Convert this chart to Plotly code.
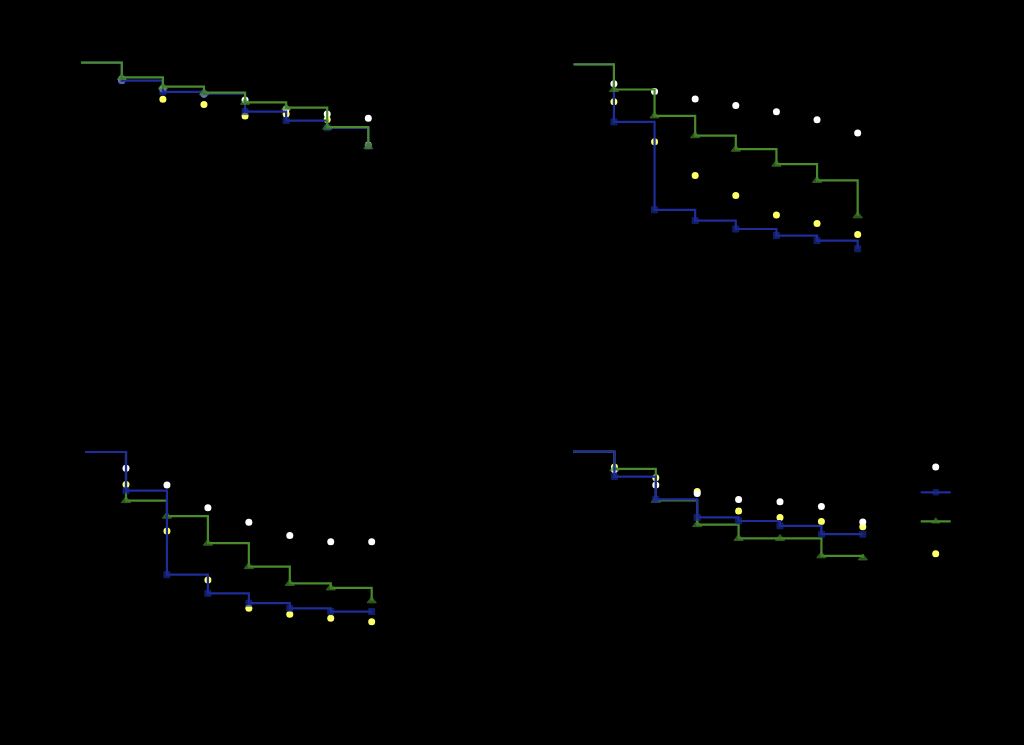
import plotly.graph_objects as go

# ---- data ----
times_line = [0, 1, 2, 3, 4, 5, 6, 7]
times_pts = [1, 2, 3, 4, 5, 6, 7]

series_names = ["Observed", "Model 1", "Model 2", "Model 3"]

# panel 1 (top-left)
p1_white = [0.945, 0.912, 0.896, 0.876, 0.845, 0.829, 0.815]
p1_blue = [1.000, 0.940, 0.903, 0.897, 0.837, 0.807, 0.783, 0.722]
p1_green = [1.000, 0.951, 0.920, 0.900, 0.868, 0.850, 0.785, 0.720]
p1_yellow = [0.941, 0.878, 0.861, 0.822, 0.829, 0.811, 0.726]

# panel 2 (top-right)
p2_white = [0.935, 0.909, 0.884, 0.863, 0.842, 0.815, 0.771]
p2_blue = [1.000, 0.808, 0.515, 0.479, 0.451, 0.429, 0.412, 0.385]
p2_green = [1.000, 0.916, 0.828, 0.762, 0.717, 0.667, 0.613, 0.495]
p2_yellow = [0.875, 0.742, 0.629, 0.563, 0.498, 0.469, 0.433]

# panel 3 (bottom-left)
p3_white = [0.946, 0.890, 0.814, 0.766, 0.722, 0.701, 0.701]
p3_blue = [1.000, 0.871, 0.591, 0.529, 0.496, 0.479, 0.468, 0.468]
p3_green = [1.000, 0.838, 0.786, 0.696, 0.618, 0.562, 0.547, 0.504]
p3_yellow = [0.892, 0.737, 0.573, 0.479, 0.459, 0.446, 0.434]

# panel 4 (bottom-right)
p4_white = [0.941, 0.889, 0.861, 0.841, 0.833, 0.817, 0.766]
p4_blue = [1.000, 0.917, 0.841, 0.781, 0.769, 0.753, 0.725, 0.725]
p4_green = [1.000, 0.943, 0.838, 0.757, 0.711, 0.711, 0.653, 0.646]
p4_yellow = [0.949, 0.913, 0.867, 0.802, 0.781, 0.767, 0.750]

panels = [
    (p1_white, p1_blue, p1_green, p1_yellow),
    (p2_white, p2_blue, p2_green, p2_yellow),
    (p3_white, p3_blue, p3_green, p3_yellow),
    (p4_white, p4_blue, p4_green, p4_yellow),
]

# ---- styling ----
W, H = 1024, 745
WHITE = "#ffffff"
YELLOW = "#ffff66"
BLUE_LINE = "#1e2d9b"
BLUE_MK = "#1a2a8c"
GREEN_LINE = "#4a8b2c"
GREEN_MK = "#3a7a25"

# pixel geometry of each panel: x-left, x-right, y-top, y-bottom
px_boxes = [
    (80.7, 409.4, 56.7, 272.7),
    (573.3, 898.3, 58.3, 274.3),
    (85.05, 412.65, 446.0, 662.0),
    (573.0, 904.2, 445.7, 661.7),
]
# which step line is drawn on top in each panel
green_on_top = [True, True, False, False]

fig = go.Figure()
line_marker_sizes_sq = [0] + [6] * 7
line_marker_sizes_tri = [0] + [8] * 7

for i, (wv, bv, gv, yv) in enumerate(panels):
    ax = "" if i == 0 else str(i + 1)
    xa, ya = "x" + ax, "y" + ax
    show = i == 0
    fig.add_trace(go.Scatter(
        x=times_pts, y=yv, mode="markers", name=series_names[3],
        marker=dict(symbol="circle", size=7, color=YELLOW),
        xaxis=xa, yaxis=ya, showlegend=show, legend="legend4", legendrank=4))
    fig.add_trace(go.Scatter(
        x=times_pts, y=wv, mode="markers", name=series_names[0],
        marker=dict(symbol="circle", size=7, color=WHITE),
        xaxis=xa, yaxis=ya, showlegend=show, legend="legend", legendrank=1))
    blue = go.Scatter(
        x=times_line, y=bv, mode="lines+markers", name=series_names[1],
        line=dict(color=BLUE_LINE, width=2.2, shape="hv"),
        marker=dict(symbol="square", size=line_marker_sizes_sq, color=BLUE_MK),
        xaxis=xa, yaxis=ya, showlegend=show, legend="legend2", legendrank=2)
    green = go.Scatter(
        x=times_line, y=gv, mode="lines+markers", name=series_names[2],
        line=dict(color=GREEN_LINE, width=2.2, shape="hv"),
        marker=dict(symbol="triangle-up", size=line_marker_sizes_tri, color=GREEN_MK),
        xaxis=xa, yaxis=ya, showlegend=show, legend="legend3", legendrank=3)
    if green_on_top[i]:
        fig.add_trace(blue)
        fig.add_trace(green)
    else:
        fig.add_trace(green)
        fig.add_trace(blue)

layout = dict(
    width=W, height=H, autosize=False,
    margin=dict(l=0, r=0, t=0, b=0),
    paper_bgcolor="black", plot_bgcolor="black",
    font=dict(family="DejaVu Sans", size=12, color="black"),
    hovermode=False,
)
for i, (xl, xr, yt, yb) in enumerate(px_boxes):
    ax = "" if i == 0 else str(i + 1)
    layout["xaxis" + ax] = dict(
        domain=[xl / W, xr / W], range=[0, 8], anchor="y" + ax,
        showgrid=False, zeroline=False, showline=False, automargin=False,
        tickfont=dict(color="black"), tickvals=times_line)
    layout["yaxis" + ax] = dict(
        domain=[1 - yb / H, 1 - yt / H], range=[0.3, 1.02], anchor="x" + ax,
        showgrid=False, zeroline=False, showline=False, automargin=False,
        tickfont=dict(color="black"))

legend_y_px = [467.0, 492.3, 521.3, 553.7]
legend_keys = ["legend", "legend2", "legend3", "legend4"]
for key, ypx in zip(legend_keys, legend_y_px):
    layout[key] = dict(
        x=915.7 / W, xanchor="left", y=1 - ypx / H, yanchor="middle",
        bgcolor="rgba(0,0,0,0)", borderwidth=0,
        font=dict(color="black", size=12))

fig.update_layout(**layout)
fig.write_html(
    "out.html",
    config={"displayModeBar": False},
    post_script="document.body.style.margin='0';document.body.style.background='black';",
)
